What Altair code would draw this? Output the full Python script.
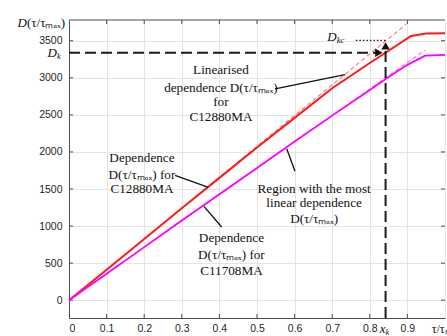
import altair as alt
import pandas as pd

# ---- data ----
x_red = [0, 0.1, 0.2, 0.3, 0.4, 0.5, 0.6, 0.7, 0.8, 0.91, 0.95, 1.0]
d_red = [0, 410, 825, 1240, 1650, 2060, 2460, 2860, 3200, 3565, 3598, 3600]

x_mag = [0, 0.1, 0.2, 0.3, 0.4, 0.5, 0.6, 0.7, 0.8, 0.85, 0.9, 0.947, 1.0]
d_mag = [0, 358, 716, 1075, 1430, 1785, 2140, 2490, 2835, 3010, 3175, 3300, 3310]

lin_red_x = [0, 0.897]
lin_red_d = [0, 3725]
lin_mag_x = [0, 0.947]
lin_mag_d = [0, 3374]

x_ticks = [0, 0.1, 0.2, 0.3, 0.4, 0.5, 0.6, 0.7, 0.8, 0.9, 1.0]
y_ticks = [0, 500, 1000, 1500, 2000, 2500, 3000, 3500]
x_dom = [0, 1.0]
y_dom = [-240, 3780]

x_k = 0.842
D_k = 3338
D_kc = 3505
dotted_start = 0.763
h_arrow_x = 0.824
v_arrow_d = 3432

# annotation text lines (centre positions in data units)
ann_text = ["Linearised", "dependence D(τ/τₘₐₓ)", "for", "C12880MA",
            "Dependence", "D(τ/τₘₐₓ) for", "C12880MA",
            "Region with the most", "linear dependence", "D(τ/τₘₐₓ)",
            "Dependence", "D(τ/τₘₐₓ) for", "C11708MA"]
ann_x = [0.404, 0.404, 0.404, 0.404,
         0.194, 0.194, 0.194,
         0.652, 0.652, 0.652,
         0.432, 0.432, 0.432]
ann_y = [3100, 2868, 2680, 2470,
         1920, 1690, 1495,
         1503, 1310, 1100,
         835, 610, 400]

# leader lines
lead_x1 = [0.548, 0.282, 0.601, 0.406]
lead_y1 = [2850, 1683, 1740, 987]
lead_x2 = [0.734, 0.369, 0.579, 0.359]
lead_y2 = [3042, 1525, 2042, 1265]

# ---- encodings ----
X_SCALE = alt.Scale(domain=x_dom, nice=False, zero=False)
Y_SCALE = alt.Scale(domain=y_dom, nice=False, zero=False)

x_axis = alt.Axis(values=x_ticks, format="~g",
                  labelExpr="datum.value > 0.95 ? '' : datum.label",
                  grid=True, gridColor="#e4e4e4", ticks=False,
                  domainColor="#4d4d4d", labelFont="Liberation Sans",
                  labelFontSize=10.5, labelColor="#262626", labelPadding=5,
                  title=None)
y_axis = alt.Axis(values=y_ticks, format="d", grid=True, gridColor="#e4e4e4",
                  ticks=False, domainColor="#4d4d4d", labelFont="Liberation Sans",
                  labelFontSize=10.5, labelColor="#262626", labelPadding=7,
                  title=None)


def X(field="x"):
    return alt.X(f"{field}:Q", scale=X_SCALE, axis=x_axis)


def Y(field="y"):
    return alt.Y(f"{field}:Q", scale=Y_SCALE, axis=y_axis)


df_red = pd.DataFrame({"x": x_red, "y": d_red})
df_mag = pd.DataFrame({"x": x_mag, "y": d_mag})
df_lr = pd.DataFrame({"x": lin_red_x, "y": lin_red_d})
df_lm = pd.DataFrame({"x": lin_mag_x, "y": lin_mag_d})

FRAME = "#4d4d4d"
top = alt.Chart(pd.DataFrame({"x": [x_dom[0]], "x2": [x_dom[1]], "y": [y_dom[1]]})).mark_rule(
    color=FRAME, strokeWidth=1).encode(x=X(), x2="x2:Q", y=Y())

# MATLAB-style inner tick marks (about 4 px long)
tick_len_y = 54.0
tick_len_x = 0.0106
inner_x = [v for v in x_ticks if 0 < v < 1]
inner_y = [v for v in y_ticks]
ticks_top = alt.Chart(pd.DataFrame({"x": inner_x, "y": [y_dom[1]] * len(inner_x),
                                    "y2": [y_dom[1] - tick_len_y] * len(inner_x)})).mark_rule(
    color=FRAME, strokeWidth=1).encode(x=X(), y=Y(), y2="y2:Q")
ticks_bot = alt.Chart(pd.DataFrame({"x": inner_x, "y": [y_dom[0]] * len(inner_x),
                                    "y2": [y_dom[0] + tick_len_y] * len(inner_x)})).mark_rule(
    color=FRAME, strokeWidth=1).encode(x=X(), y=Y(), y2="y2:Q")
ticks_left = alt.Chart(pd.DataFrame({"x": [0.0] * len(inner_y), "x2": [tick_len_x] * len(inner_y),
                                     "y": inner_y})).mark_rule(
    color=FRAME, strokeWidth=1).encode(x=X(), x2="x2:Q", y=Y())
ticks_right = alt.Chart(pd.DataFrame({"x": [1.0] * len(inner_y), "x2": [1.0 - tick_len_x] * len(inner_y),
                                      "y": inner_y})).mark_rule(
    color=FRAME, strokeWidth=1).encode(x=X(), x2="x2:Q", y=Y())

lin_red = alt.Chart(df_lr).mark_line(color="#ff3b3b", strokeWidth=1, strokeDash=[4, 3]).encode(x=X(), y=Y())
lin_mag = alt.Chart(df_lm).mark_line(color="#ff33ff", strokeWidth=1, strokeDash=[4, 3]).encode(x=X(), y=Y())
red = alt.Chart(df_red).mark_line(color="#ff1a1a", strokeWidth=2).encode(x=X(), y=Y())
mag = alt.Chart(df_mag).mark_line(color="#ff00ff", strokeWidth=1.8).encode(x=X(), y=Y())

hdash = alt.Chart(pd.DataFrame({"x": [0], "x2": [h_arrow_x], "y": [D_k]})).mark_rule(
    color="#1a1a1a", strokeWidth=2, strokeDash=[11, 5]).encode(x=X(), x2="x2:Q", y=Y())
vdash = alt.Chart(pd.DataFrame({"x": [x_k], "y": [y_dom[0]], "y2": [v_arrow_d]})).mark_rule(
    color="#1a1a1a", strokeWidth=2, strokeDash=[11, 5]).encode(x=X(), y=Y(), y2="y2:Q")
dotted = alt.Chart(pd.DataFrame({"x": [dotted_start], "x2": [x_k], "y": [D_kc]})).mark_rule(
    color="#1a1a1a", strokeWidth=1.2, strokeDash=[1.5, 2]).encode(x=X(), x2="x2:Q", y=Y())

harrow = alt.Chart(pd.DataFrame({"x": [h_arrow_x], "y": [D_k]})).mark_point(
    shape="triangle-right", filled=True, size=70, color="#111", opacity=1).encode(x=X(), y=Y())
varrow = alt.Chart(pd.DataFrame({"x": [x_k], "y": [v_arrow_d]})).mark_point(
    shape="triangle-up", filled=True, size=70, color="#111", opacity=1).encode(x=X(), y=Y())

leaders = alt.Chart(pd.DataFrame({"x": lead_x1, "y": lead_y1, "x2": lead_x2, "y2": lead_y2})).mark_rule(
    color="#111", strokeWidth=1.3).encode(x=X(), y=Y(), x2="x2:Q", y2="y2:Q")

ann = alt.Chart(pd.DataFrame({"x": ann_x, "y": ann_y, "t": ann_text})).mark_text(
    font="Liberation Serif", fontSize=13.2, color="#111", align="center", baseline="middle").encode(
    x=X(), y=Y(), text="t:N")

# composite labels with subscripts
serif = "Liberation Serif"
lab_main = pd.DataFrame({
    "x": [0.712, -0.032, x_k, -0.1117],
    "y": [3553, D_k, -386, 3742],
    "t": ["D", "D", "x", "D"],
})
lab_sub = pd.DataFrame({
    "x": [0.712, -0.032, x_k],
    "y": [3553, D_k, -386],
    "t": ["kc", "k", "k"],
})
main_text = alt.Chart(lab_main).mark_text(
    font=serif, fontSize=13, fontStyle="italic", color="#111", align="right", baseline="middle").encode(
    x=X(), y=Y(), text="t:N")
sub_text = alt.Chart(lab_sub).mark_text(
    font=serif, fontSize=8.5, fontStyle="italic", color="#111", align="left", baseline="middle", dy=3).encode(
    x=X(), y=Y(), text="t:N")

other_lab = pd.DataFrame({
    "x": [-0.1117, 1.0],
    "y": [3742, -386],
    "t": ["(τ/τₘₐₓ)", "τ/τₘₐₓ"],
})
ylab = alt.Chart(other_lab.iloc[[0]]).mark_text(
    font=serif, fontSize=13, color="#111", align="left", baseline="middle").encode(x=X(), y=Y(), text="t:N")
xlab = alt.Chart(other_lab.iloc[[1]]).mark_text(
    font=serif, fontSize=12, color="#111", align="center", baseline="middle").encode(x=X(), y=Y(), text="t:N")

chart = alt.layer(
    top, ticks_top, ticks_bot, ticks_left, ticks_right,
    lin_red, lin_mag, red, mag, hdash, vdash, dotted, harrow, varrow,
    leaders, ann, main_text, sub_text, ylab, xlab,
).properties(
    width=376, height=298,
    padding={"left": 69, "top": 20, "right": 2, "bottom": 18},
    autosize=alt.AutoSizeParams(type="none"),
    background="white",
).configure_view(stroke=None)

chart.save("out.html", embed_options={"renderer": "svg", "actions": False})
